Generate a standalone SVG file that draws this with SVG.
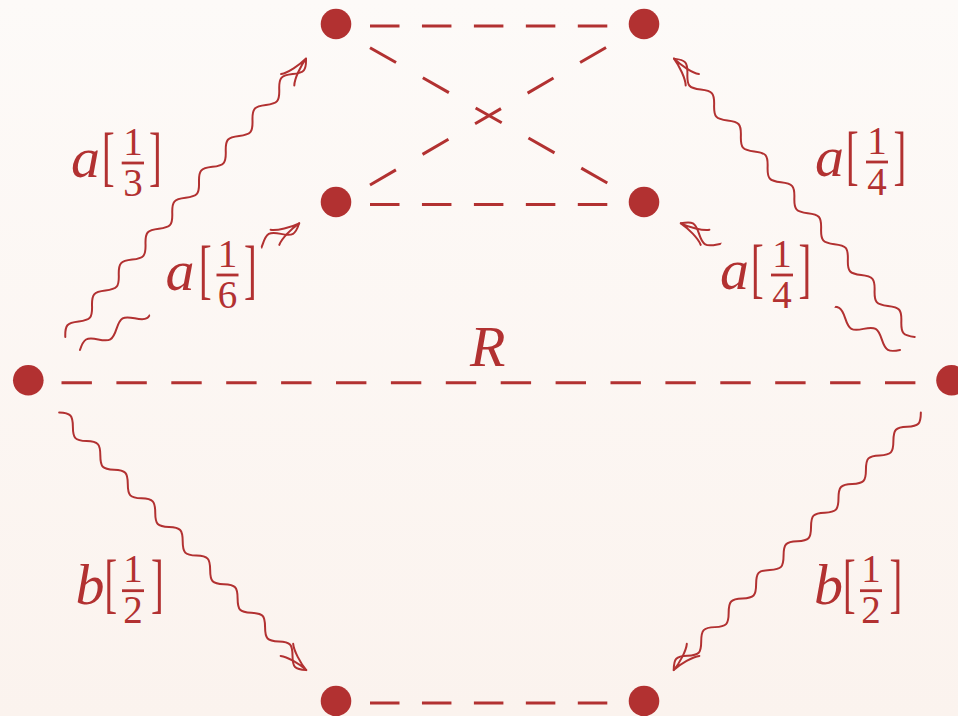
<svg xmlns="http://www.w3.org/2000/svg" xmlns:xlink="http://www.w3.org/1999/xlink" width="958" height="716" viewBox="0 0 958 716">
<style>
.wave{fill:none;stroke:#b23131;stroke-width:2;stroke-linecap:round;stroke-linejoin:round}
.dash{fill:none;stroke:#b23131;stroke-width:3}
.node{fill:#b23131}
.lab text{fill:#b23131;font-family:"Liberation Serif","DejaVu Serif",serif}
.lab .it{font-style:italic;font-size:58px}
.lab .num{font-size:39px;text-anchor:middle}
.lab .br{font-size:38px}
.lab rect{fill:#b23131}
</style>
<defs>
<linearGradient id="bg" x1="0" y1="0" x2="0" y2="716" gradientUnits="userSpaceOnUse">
<stop offset="0" stop-color="#fdfaf8"/>
<stop offset="1" stop-color="#fbf3ee"/>
</linearGradient>
<path id="snakeLong" d="M57,0 c8.675,-8 11.765,-8 20.44,0 s11.765,8 20.44,0 s11.765,-8 20.44,0 s11.765,8 20.44,0 s11.765,-8 20.44,0 s11.765,8 20.44,0 s11.765,-8 20.44,0 s11.765,8 20.44,0 s11.765,-8 20.44,0 s11.765,8 20.44,0 s11.765,-8 20.44,0 s11.765,8 20.44,0 s11.765,-8 20.44,0 s11.765,8 20.44,0 s11.765,-8 20.44,0 s11.765,8 20.44,0 s11.765,-8 20.44,0 s11.765,8 20.44,0"/>
<path id="snakeBottom" d="M45,0 c8.416,-8 11.414,-8 19.83,0 s11.414,8 19.83,0 s11.414,-8 19.83,0 s11.414,8 19.83,0 s11.414,-8 19.83,0 s11.414,8 19.83,0 s11.414,-8 19.83,0 s11.414,8 19.83,0 s11.414,-8 19.83,0 s11.414,8 19.83,0 s11.414,-8 19.83,0 s11.414,8 19.83,0 s11.414,-8 19.83,0 s11.414,8 19.83,0 s11.414,-8 19.83,0 s11.414,8 19.83,0 s11.414,-8 19.83,0 s11.414,8 19.83,0"/>
<path id="snakeShort" d="M60,0 c8.955,-8 12.145,-8 21.1,0 s12.145,8 21.1,0 s12.145,-8 21.1,0 s12.145,8 21.1,0 s12.145,-8 21.1,0 s12.145,8 21.1,0 s12.145,-8 21.1,0 s12.145,8 21.1,0 s12.145,-8 21.1,0 s12.145,8 21.1,0 s12.145,-8 21.1,0 s12.145,8 21.1,0"/>
<path id="head" d="M-28,-8.7 C-23,-4.5 -9,-0.6 0,0 C-9,0.6 -23,4.5 -28,8.7"/>
<clipPath id="gap" clipPathUnits="userSpaceOnUse">
<path d="M0,-40H138V40H0Z M268,-40H360V40H268Z"/>
</clipPath>
</defs>
<rect width="958" height="716" fill="url(#bg)"/>

<g id="connectors">
<g id="dashed">
<line class="dash" x1="370" y1="26" x2="607.5" y2="26" stroke-dasharray="29.5 22.45"/>
<line class="dash" x1="370" y1="204.5" x2="607.5" y2="204.5" stroke-dasharray="29.5 22.45"/>
<line class="dash" x1="370" y1="703" x2="607.5" y2="703" stroke-dasharray="29.5 22.45"/>
<line class="dash" x1="370" y1="47.7" x2="607.3" y2="183" stroke-dasharray="30 30.8"/>
<line class="dash" x1="370" y1="185" x2="607.3" y2="46.7" stroke-dasharray="30 30.8"/>
<line class="dash" x1="61.5" y1="382.8" x2="916" y2="382.8" stroke-dasharray="30.4 24.5"/>
</g>
<g id="edge-a13" class="wave" transform="translate(28,380) rotate(-49.14)">
<use xlink:href="#snakeLong"/><use xlink:href="#head" x="425"/>
</g>
<g id="edge-a16" class="wave" transform="translate(28,380) rotate(-30.02)">
<use xlink:href="#snakeShort" clip-path="url(#gap)"/><use xlink:href="#head" x="313.2"/>
</g>
<g id="edge-a14-top" class="wave" transform="translate(952,380) rotate(-130.86)">
<use xlink:href="#snakeLong"/><use xlink:href="#head" x="425"/>
</g>
<g id="edge-a14-mid" class="wave" transform="translate(952,380) rotate(-149.98)">
<use xlink:href="#snakeShort" clip-path="url(#gap)"/><use xlink:href="#head" x="313.2"/>
</g>
<g id="edge-b12-left" class="wave" transform="translate(28,380) rotate(46.19)">
<use xlink:href="#snakeBottom"/><use xlink:href="#head" x="402"/>
</g>
<g id="edge-b12-right" class="wave" transform="translate(952,380) rotate(133.81)">
<use xlink:href="#snakeBottom"/><use xlink:href="#head" x="402"/>
</g>
</g>

<g id="node-TL"><circle class="node" cx="336" cy="24" r="15.3"/></g>
<g id="node-TR"><circle class="node" cx="644" cy="24" r="15.3"/></g>
<g id="node-ML"><circle class="node" cx="336" cy="202" r="15.3"/></g>
<g id="node-MR"><circle class="node" cx="644" cy="202" r="15.3"/></g>
<g id="node-L"><circle class="node" cx="28.3" cy="380.3" r="15.3"/></g>
<g id="node-R"><circle class="node" cx="951.5" cy="380.3" r="15.3"/></g>
<g id="node-BL"><circle class="node" cx="336" cy="701" r="15.3"/></g>
<g id="node-BR"><circle class="node" cx="644" cy="701" r="15.3"/></g>

<g id="label-R" class="lab"><text class="it" x="470" y="366">R</text></g>

<g id="label-a13" class="lab">
<text class="it" x="71" y="177">a</text>
<text class="br" transform="translate(102,178) scale(1,1.75)">[</text>
<text class="num" x="133" y="154.5">1</text>
<rect x="121.7" y="161.6" width="22.3" height="2.8"/>
<text class="num" x="133" y="196">3</text>
<text class="br" transform="translate(149,178) scale(1,1.75)">]</text>
</g>

<g id="label-a16" class="lab">
<text class="it" x="165.5" y="290">a</text>
<text class="br" transform="translate(199,291) scale(1,1.75)">[</text>
<text class="num" x="227.5" y="266.5">1</text>
<rect x="216.5" y="273.6" width="22" height="2.8"/>
<text class="num" x="227.5" y="308">6</text>
<text class="br" transform="translate(244,291) scale(1,1.75)">]</text>
</g>

<g id="label-a14-top" class="lab">
<text class="it" x="815" y="176">a</text>
<text class="br" transform="translate(846,177) scale(1,1.75)">[</text>
<text class="num" x="877" y="153.5">1</text>
<rect x="866" y="160.6" width="22" height="2.8"/>
<text class="num" x="877" y="195">4</text>
<text class="br" transform="translate(893.5,177) scale(1,1.75)">]</text>
</g>

<g id="label-a14-mid" class="lab">
<text class="it" x="720" y="289">a</text>
<text class="br" transform="translate(751,290) scale(1,1.75)">[</text>
<text class="num" x="782" y="266.5">1</text>
<rect x="771" y="273.6" width="22" height="2.8"/>
<text class="num" x="782" y="308">4</text>
<text class="br" transform="translate(798.5,290) scale(1,1.75)">]</text>
</g>

<g id="label-b12-left" class="lab">
<text class="it" x="75.5" y="604">b</text>
<text class="br" transform="translate(104.5,605) scale(1,1.75)">[</text>
<text class="num" x="133" y="582">1</text>
<rect x="122" y="589.3" width="22" height="2.8"/>
<text class="num" x="133" y="623">2</text>
<text class="br" transform="translate(151,605) scale(1,1.75)">]</text>
</g>

<g id="label-b12-right" class="lab">
<text class="it" x="814" y="604">b</text>
<text class="br" transform="translate(843,605) scale(1,1.75)">[</text>
<text class="num" x="871" y="582">1</text>
<rect x="860" y="589.3" width="22" height="2.8"/>
<text class="num" x="871" y="623">2</text>
<text class="br" transform="translate(889.5,605) scale(1,1.75)">]</text>
</g>
</svg>
